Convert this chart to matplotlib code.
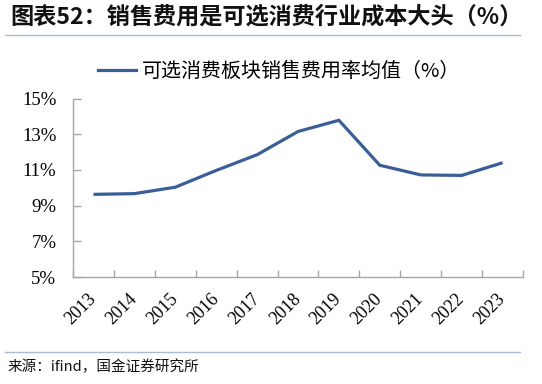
import matplotlib
matplotlib.use("Agg")
import matplotlib.pyplot as plt
from matplotlib.lines import Line2D
import numpy as np

# data
years = ["2013", "2014", "2015", "2016", "2017", "2018",
         "2019", "2020", "2021", "2022", "2023"]
sales_ratio = [9.63, 9.67, 10.03, 10.97, 11.85, 13.15,
               13.78, 11.26, 10.72, 10.69, 11.40]
y_ticks = [5, 7, 9, 11, 13, 15]

title = "图表52：销售费用是可选消费行业成本大头（%）"
legend_label = "可选消费板块销售费用率均值（%）"
source = "来源：ifind，国金证券研究所"

CJK = ["Noto Sans CJK SC", "DejaVu Sans"]
SERIF = ["Liberation Serif", "DejaVu Serif"]
LINE_COLOR = "#3A5F97"
SPINE_COLOR = "#A6A6A6"
RULE_COLOR = "#A9BDD0"

fig = plt.figure(figsize=(5.42, 3.84), dpi=100)
ax = fig.add_axes([73 / 542, 1 - 277 / 384, 450 / 542, (277 - 98.5) / 384])

x = np.arange(len(years))
ax.plot(x, sales_ratio, color=LINE_COLOR, lw=2.3, solid_capstyle="butt",
        solid_joinstyle="miter")

# axes limits and ticks (category style: ticks between categories)
ax.set_xlim(-0.5, len(years) - 0.5)
ax.set_ylim(y_ticks[0], y_ticks[-1])
ax.set_xticks(np.arange(-0.5, len(years)), labels=[""] * (len(years) + 1))
ax.set_xticks(x, labels=years, minor=True)
ax.set_yticks(y_ticks, labels=[f"{v}%" for v in y_ticks])

ax.tick_params(axis="x", which="major", direction="in", length=5,
               color=SPINE_COLOR, width=1)
ax.tick_params(axis="x", which="minor", length=0, pad=14)
ax.tick_params(axis="y", direction="in", length=6, color=SPINE_COLOR,
               width=1, pad=12)
for lab in ax.get_xticklabels(minor=True):
    lab.set_rotation(45)
    lab.set_rotation_mode("anchor")
    lab.set_ha("right")
    lab.set_va("center")
    lab.set_family(SERIF)
    lab.set_fontsize(13)
for lab in ax.get_yticklabels():
    lab.set_family(SERIF)
    lab.set_fontsize(13.5)

for side in ["top", "right"]:
    ax.spines[side].set_visible(False)
for side in ["left", "bottom"]:
    ax.spines[side].set_color(SPINE_COLOR)
    ax.spines[side].set_linewidth(1)

# legend
handle = Line2D([], [], color=LINE_COLOR, lw=2.3)
ax.legend([handle], [legend_label], loc="center left",
          bbox_to_anchor=(98 / 542, 1 - 71 / 384),
          bbox_transform=fig.transFigure, frameon=False,
          handlelength=1.9, handletextpad=0.3, borderpad=0,
          borderaxespad=0, prop={"family": CJK, "size": 14.4})

# title, rules and source
fig.text(10 / 542, 1 - 17 / 384, title, family=CJK, fontsize=16.7,
         fontweight="bold", color="#111111", va="center", ha="left")
fig.add_artist(Line2D([5 / 542, 520 / 542], [1 - 35 / 384] * 2,
                      color=RULE_COLOR, lw=1))
fig.add_artist(Line2D([5 / 542, 520 / 542], [1 - 352 / 384] * 2,
                      color=RULE_COLOR, lw=1))
fig.text(8 / 542, 1 - 367 / 384, source, family=CJK, fontsize=10.5,
         color="#111111", va="center", ha="left")

fig.savefig("out.png", dpi=100)
